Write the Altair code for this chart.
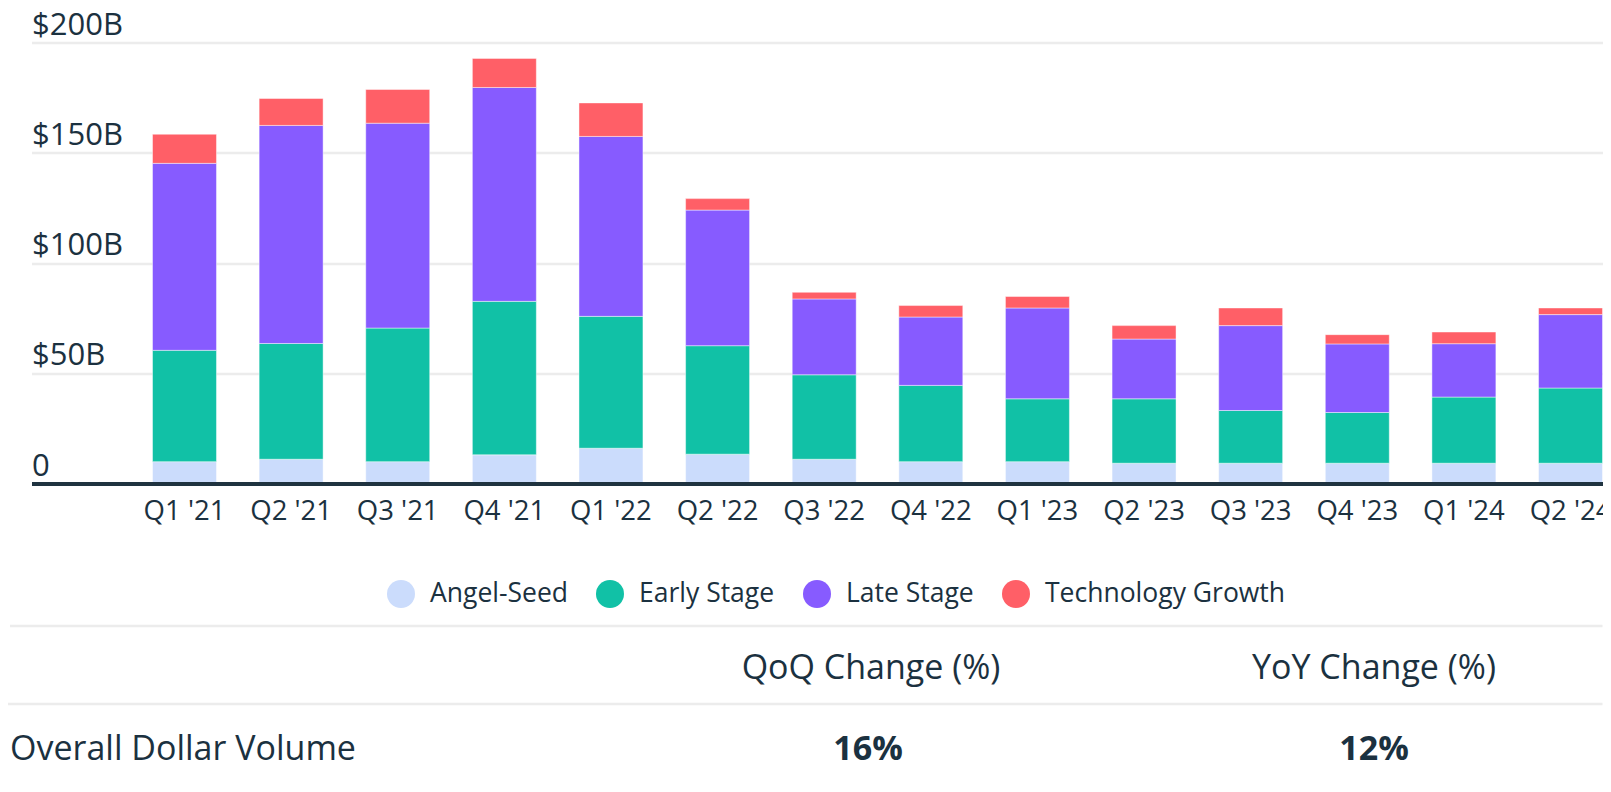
import altair as alt
import pandas as pd

# ---------------- data ----------------
quarters = ["Q1 '21", "Q2 '21", "Q3 '21", "Q4 '21", "Q1 '22", "Q2 '22", "Q3 '22",
            "Q4 '22", "Q1 '23", "Q2 '23", "Q3 '23", "Q4 '23", "Q1 '24", "Q2 '24"]
stages = ["Angel-Seed", "Early Stage", "Late Stage", "Technology Growth"]

angel_seed = [9.9, 11.0, 9.9, 13.0, 16.0, 13.3, 11.0, 9.9, 9.9, 9.2, 9.2, 9.2, 9.2, 9.2]
early_stage = [50.5, 52.5, 60.6, 69.6, 59.8, 49.2, 38.3, 34.6, 28.5, 29.2, 23.9, 23.0, 30.0, 34.1]
late_stage = [84.8, 98.9, 92.9, 97.0, 81.6, 61.5, 34.4, 31.0, 41.2, 27.1, 38.5, 31.1, 24.2, 33.3]
tech_growth = [13.2, 12.2, 15.3, 13.2, 15.2, 5.2, 3.0, 5.2, 5.2, 6.1, 8.0, 4.2, 5.3, 3.0]

stage_colors = ["#cbdcfc", "#11c1a6", "#875bff", "#ff5f67"]
y_ticks = [0, 50, 100, 150, 200]

table_headers = ["QoQ Change (%)", "YoY Change (%)"]
table_row_label = "Overall Dollar Volume"
table_values = ["16%", "12%"]

FONT = "Open Sans"
TEXT = "#1b3140"
GRID = "#ececec"

rows = []
series = [angel_seed, early_stage, late_stage, tech_growth]
for i, q in enumerate(quarters):
    for k, s in enumerate(stages):
        rows.append({"quarter": q, "stage": s, "value": series[k][i], "order": k})
df = pd.DataFrame(rows)

# ---------------- bars ----------------
bars = alt.Chart(df).mark_bar(stroke="white", strokeWidth=1, strokeOpacity=0.45).encode(
    x=alt.X("quarter:N", sort=quarters,
            scale=alt.Scale(paddingInner=0.4, paddingOuter=0.5675, align=1),
            axis=alt.Axis(title=None, labelAngle=0, labelFont=FONT, labelFontSize=27.5,
                          labelColor=TEXT, labelPadding=13.5, ticks=False, tickSize=0,
                          domainColor="#1f3340", domainWidth=4, zindex=1,
                          labelOverlap=False)),
    y=alt.Y("value:Q", stack="zero",
            scale=alt.Scale(domain=[0, 200], nice=False),
            axis=alt.Axis(title=None, values=y_ticks,
                          labelExpr="datum.value == 0 ? '0' : '$' + datum.value + 'B'",
                          labelAlign="left", labelBaseline="alphabetic", labelPadding=0,
                          labelOffset=-8.5, ticks=False, tickSize=0, domain=False,
                          grid=True, gridColor=GRID, gridWidth=2.5,
                          labelFont=FONT, labelFontSize=31, labelColor=TEXT)),
    color=alt.Color("stage:N", scale=alt.Scale(domain=stages, range=stage_colors),
                    legend=alt.Legend(title=None, orient="none", legendX=355.5, legendY=537.5,
                                      direction="horizontal", symbolType="circle",
                                      symbolSize=784, symbolStrokeWidth=0, symbolOpacity=1,
                                      labelFont=FONT, labelFontSize=26.5, labelColor=TEXT,
                                      labelOffset=15, columnPadding=28, padding=0,
                                      labelLimit=0)),
    order=alt.Order("order:Q", sort="ascending"),
)


def rule_layer(x0, x1, y):
    return alt.Chart(pd.DataFrame({"r": [0]})).mark_rule(color=GRID, strokeWidth=2.5).encode(
        x=alt.value(x0), x2=alt.value(x1), y=alt.value(y))


def text_layer(text, x, y, size, weight="normal", align="center"):
    return alt.Chart(pd.DataFrame({"t": [text]})).mark_text(
        align=align, baseline="alphabetic", font=FONT, fontSize=size,
        fontWeight=weight, color=TEXT).encode(
        text="t:N", x=alt.value(x), y=alt.value(y))


layers = [
    bars,
    rule_layer(-21.5, 1571, 583.5),
    rule_layer(-26.5, 1571, 661.5),
    text_layer(table_headers[0], 839.5, 636.5, 34),
    text_layer(table_headers[1], 1342.5, 636.5, 34),
    text_layer(table_row_label, -21.5, 717.5, 34, align="left"),
    text_layer(table_values[0], 836.5, 717.5, 34, weight="bold"),
    text_layer(table_values[1], 1342.5, 717.5, 34, weight="bold"),
]

chart = alt.layer(*layers).properties(
    width=1571, height=441,
    autosize=alt.AutoSizeParams(type="none"),
    padding={"left": 23.5, "top": 34.5, "right": 0, "bottom": 289.5},
    background="white",
).configure_view(stroke=None)

chart.save("out.html", embed_options={"renderer": "svg", "actions": False})
